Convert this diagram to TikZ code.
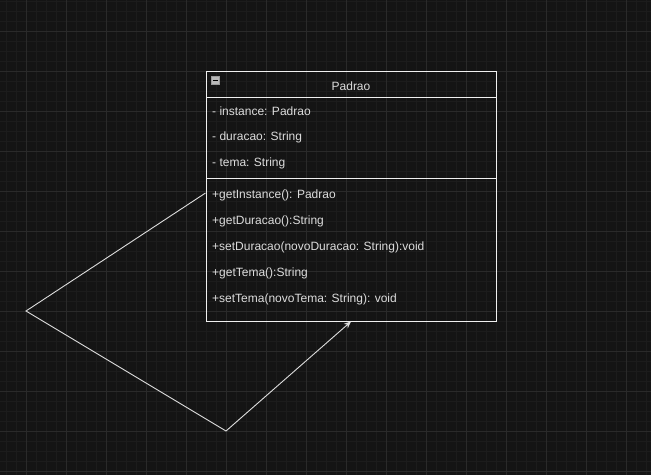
\documentclass[tikz,border=0pt]{standalone}
\usepackage{fontspec}
\setmainfont{Liberation Sans}
\usetikzlibrary{arrows.meta}
\definecolor{bgdark}{HTML}{141414}
\definecolor{gridminor}{HTML}{1C1C1C}
\definecolor{gridmajor}{HTML}{2A2A2A}
\definecolor{umlline}{HTML}{F0F0F0}
\definecolor{umltext}{HTML}{DCDCDC}
\tikzset{
	member/.style = {anchor = west, inner sep = 0pt, text = umltext, font = \fontsize{12}{14}\selectfont},
	classbox/.style = {draw = umlline, line width = 1pt, minimum width = 290pt, minimum height = 250pt, inner sep = 0pt},
	link/.style = {draw = umlline!92!black, line width = 0.9pt, line join = miter}
}
\begin{document}
\begin{tikzpicture}[x = 1pt, y = -1pt]
		\fill [bgdark] (0,0) rectangle (651,475);
		\useasboundingbox (0,0) rectangle (651,475);
		\foreach \gx in {6.7,16.7,...,651} \draw [gridminor, line width = 0.6pt] (\gx,0) -- (\gx,475);
		\foreach \gy in {1.7,11.7,...,475} \draw [gridminor, line width = 0.6pt] (0,\gy) -- (651,\gy);
		\foreach \gx in {26.7,66.7,...,651} \draw [gridmajor, line width = 0.8pt] (\gx,0) -- (\gx,475);
		\foreach \gy in {31.7,71.7,...,475} \draw [gridmajor, line width = 0.8pt] (0,\gy) -- (651,\gy);
		% class box
		\node [classbox] (padrao) at (351,196) {};
		\draw [umlline, line width = 1pt] (206,97) -- (496,97);
		\draw [umlline, line width = 1pt] (206,178) -- (496,178);
		\node [member, anchor = center] (title) at (351,86) {Padrao};
		\draw [fill = gray!55, draw = gray!80] (211,76) rectangle (219.5,84.5);
		\draw [black, line width = 1.3pt] (212.7,80.3) -- (217.8,80.3);
		\node [member] (attr1) at (212,111) {- instance: Padrao};
		\node [member] (attr2) at (212,137) {- duracao: String};
		\node [member] (attr3) at (212,163) {- tema: String};
		\node [member] (op1) at (212,195) {+getInstance(): Padrao};
		\node [member] (op2) at (212,221) {+getDuracao():String};
		\node [member] (op3) at (212,247) {+setDuracao(novoDuracao: String):void};
		\node [member] (op4) at (212,273) {+getTema():String};
		\node [member] (op5) at (212,299) {+setTema(novoTema: String): void};
		% self association
		\coordinate (bendl) at (26,311);
		\coordinate (bendb) at (226,431);
		\draw [link, -{Stealth[length = 7pt, width = 6pt]}] ([yshift = 3pt]padrao.west) -- (bendl) -- (bendb) -- (padrao.south);
	\end{tikzpicture}
\end{document}
